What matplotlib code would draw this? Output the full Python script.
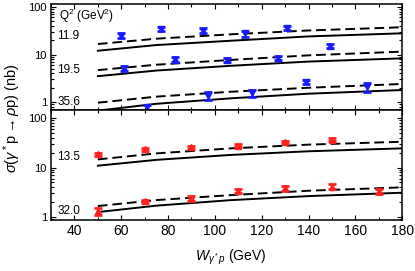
import numpy as np
import matplotlib
matplotlib.use('Agg')
import matplotlib.pyplot as plt
from matplotlib.ticker import LogLocator, NullFormatter, MultipleLocator

plt.rcParams['font.family'] = ['Liberation Sans', 'DejaVu Sans']
plt.rcParams['mathtext.fontset'] = 'custom'
plt.rcParams['mathtext.rm'] = 'Liberation Sans'
plt.rcParams['mathtext.it'] = 'Liberation Sans:italic'

# model curves
w_curve = [50, 75, 107, 140, 180]
top_dash = {'11.9': [16.6, 21.5, 26.6, 32.0, 37.4],
            '19.5': [4.7, 6.1, 7.7, 9.6, 11.5],
            '35.6': [0.97, 1.30, 1.65, 2.0, 2.4]}
top_solid = {'11.9': [12.0, 15.8, 19.5, 24.0, 27.9],
             '19.5': [3.5, 4.6, 5.8, 7.1, 8.3],
             '35.6': [0.66, 0.92, 1.20, 1.5, 1.79]}
bot_dash = {'13.5': [14.6, 19.3, 24.4, 29.0, 33.2],
            '32.0': [1.67, 2.2, 2.78, 3.4, 3.98]}
bot_solid = {'13.5': [10.9, 14.3, 18.0, 21.3, 24.4],
             '32.0': [1.26, 1.7, 2.2, 2.65, 3.1]}

# data points (blue = top panel, red = bottom panel)
w_119 = [60, 77, 95, 113, 131]
s_119 = [24.9, 34.0, 31.8, 27.9, 36.0]
e_119 = [3.0, 3.0, 3.5, 4.0, 3.5]
w_195 = [61, 83, 105, 127, 149]
s_195 = [5.1, 7.9, 7.7, 8.6, 15.3]
e_195 = [0.6, 0.9, 0.8, 0.9, 1.6]
w_356 = [71, 97, 116, 139, 165]
s_356 = [0.77, 1.34, 1.52, 2.67, 2.04]
e_356 = [0.08, 0.25, 0.25, 0.3, 0.45]

w_135 = [50, 70, 90, 110, 130, 150]
s_135 = [18.5, 23.3, 25.6, 27.6, 32.7, 36.5]
e_135 = [1.5, 1.5, 1.8, 1.8, 2.0, 2.5]
w_320 = [50, 70, 90, 110, 130, 150, 170]
s_320 = [1.32, 2.1, 2.39, 3.35, 3.8, 4.1, 3.35]
e_320 = [0.2, 0.15, 0.25, 0.3, 0.4, 0.45, 0.4]

fig = plt.figure(figsize=(4.15, 2.71), dpi=100)
ax1 = fig.add_axes([0.123, 0.594, 0.846, 0.393])
ax2 = fig.add_axes([0.123, 0.188, 0.846, 0.406])

blue = '#1a1aff'
red = '#ff2020'

for k in top_dash:
    ax1.plot(w_curve, top_dash[k], 'k--', lw=1.4, dashes=(5, 2.5))
    ax1.plot(w_curve, top_solid[k], 'k-', lw=1.4)
for k in bot_dash:
    ax2.plot(w_curve, bot_dash[k], 'k--', lw=1.4, dashes=(5, 2.5))
    ax2.plot(w_curve, bot_solid[k], 'k-', lw=1.4)

eb = dict(ls='none', capsize=3, capthick=2, elinewidth=1.0, ms=4.5)
ax1.errorbar(w_119, s_119, yerr=e_119, fmt='v', color=blue, **eb)
ax1.errorbar(w_195, s_195, yerr=e_195, fmt='^', color=blue, **eb)
ax1.errorbar(w_356, s_356, yerr=e_356, fmt='v', color=blue, **eb)
ax2.errorbar(w_135, s_135, yerr=e_135, fmt='^', color=red, **eb)
ax2.errorbar(w_320, s_320, yerr=e_320, fmt='^', color=red, **eb)

ax1.set_ylim(0.68, 118)
ax2.set_ylim(0.87, 145)
for ax in (ax1, ax2):
    ax.set_yscale('log')
    ax.set_xlim(30, 180)
    ax.xaxis.set_major_locator(MultipleLocator(20))
    ax.xaxis.set_minor_locator(MultipleLocator(10))
    ax.yaxis.set_minor_locator(LogLocator(base=10, subs=np.arange(2, 10), numticks=20))
    ax.yaxis.set_minor_formatter(NullFormatter())
    ax.set_yticks([1, 10, 100])
    ax.set_yticklabels(['1', '10', '100'])
    ax.tick_params(which='both', direction='in', top=True, right=True, width=0.8)
    ax.tick_params(which='major', length=3.5)
    ax.tick_params(which='minor', length=2)
    ax.tick_params(axis='y', labelsize=8, pad=3)
    ax.tick_params(axis='x', labelsize=10, pad=3)
    for s in ax.spines.values():
        s.set_linewidth(1.1)
ax1.tick_params(axis='x', labelbottom=False)

ax1.text(33.5, 53, r'Q$^2$ (GeV$^2$)', fontsize=8.5, va='baseline', ha='left')
ax1.text(37.5, 24, '11.9', fontsize=8.5, ha='center', va='center')
ax1.text(37.5, 4.8, '19.5', fontsize=8.5, ha='center', va='center')
ax1.text(37.5, 1.0, '35.6', fontsize=8.5, ha='center', va='center')
ax2.text(37.5, 16, '13.5', fontsize=8.5, ha='center', va='center')
ax2.text(37.5, 1.3, '32.0', fontsize=8.5, ha='center', va='center')

fig.text(0.03, 0.565, r'$\sigma$($\gamma^*$p$\rightarrow\rho$p) (nb)', rotation=90,
         fontsize=10.5, ha='center', va='center')
fig.text(0.557, 0.05, r'$W_{\gamma^*p}$ (GeV)', fontsize=10, ha='center', va='center')

fig.savefig('out.png', dpi=100)
